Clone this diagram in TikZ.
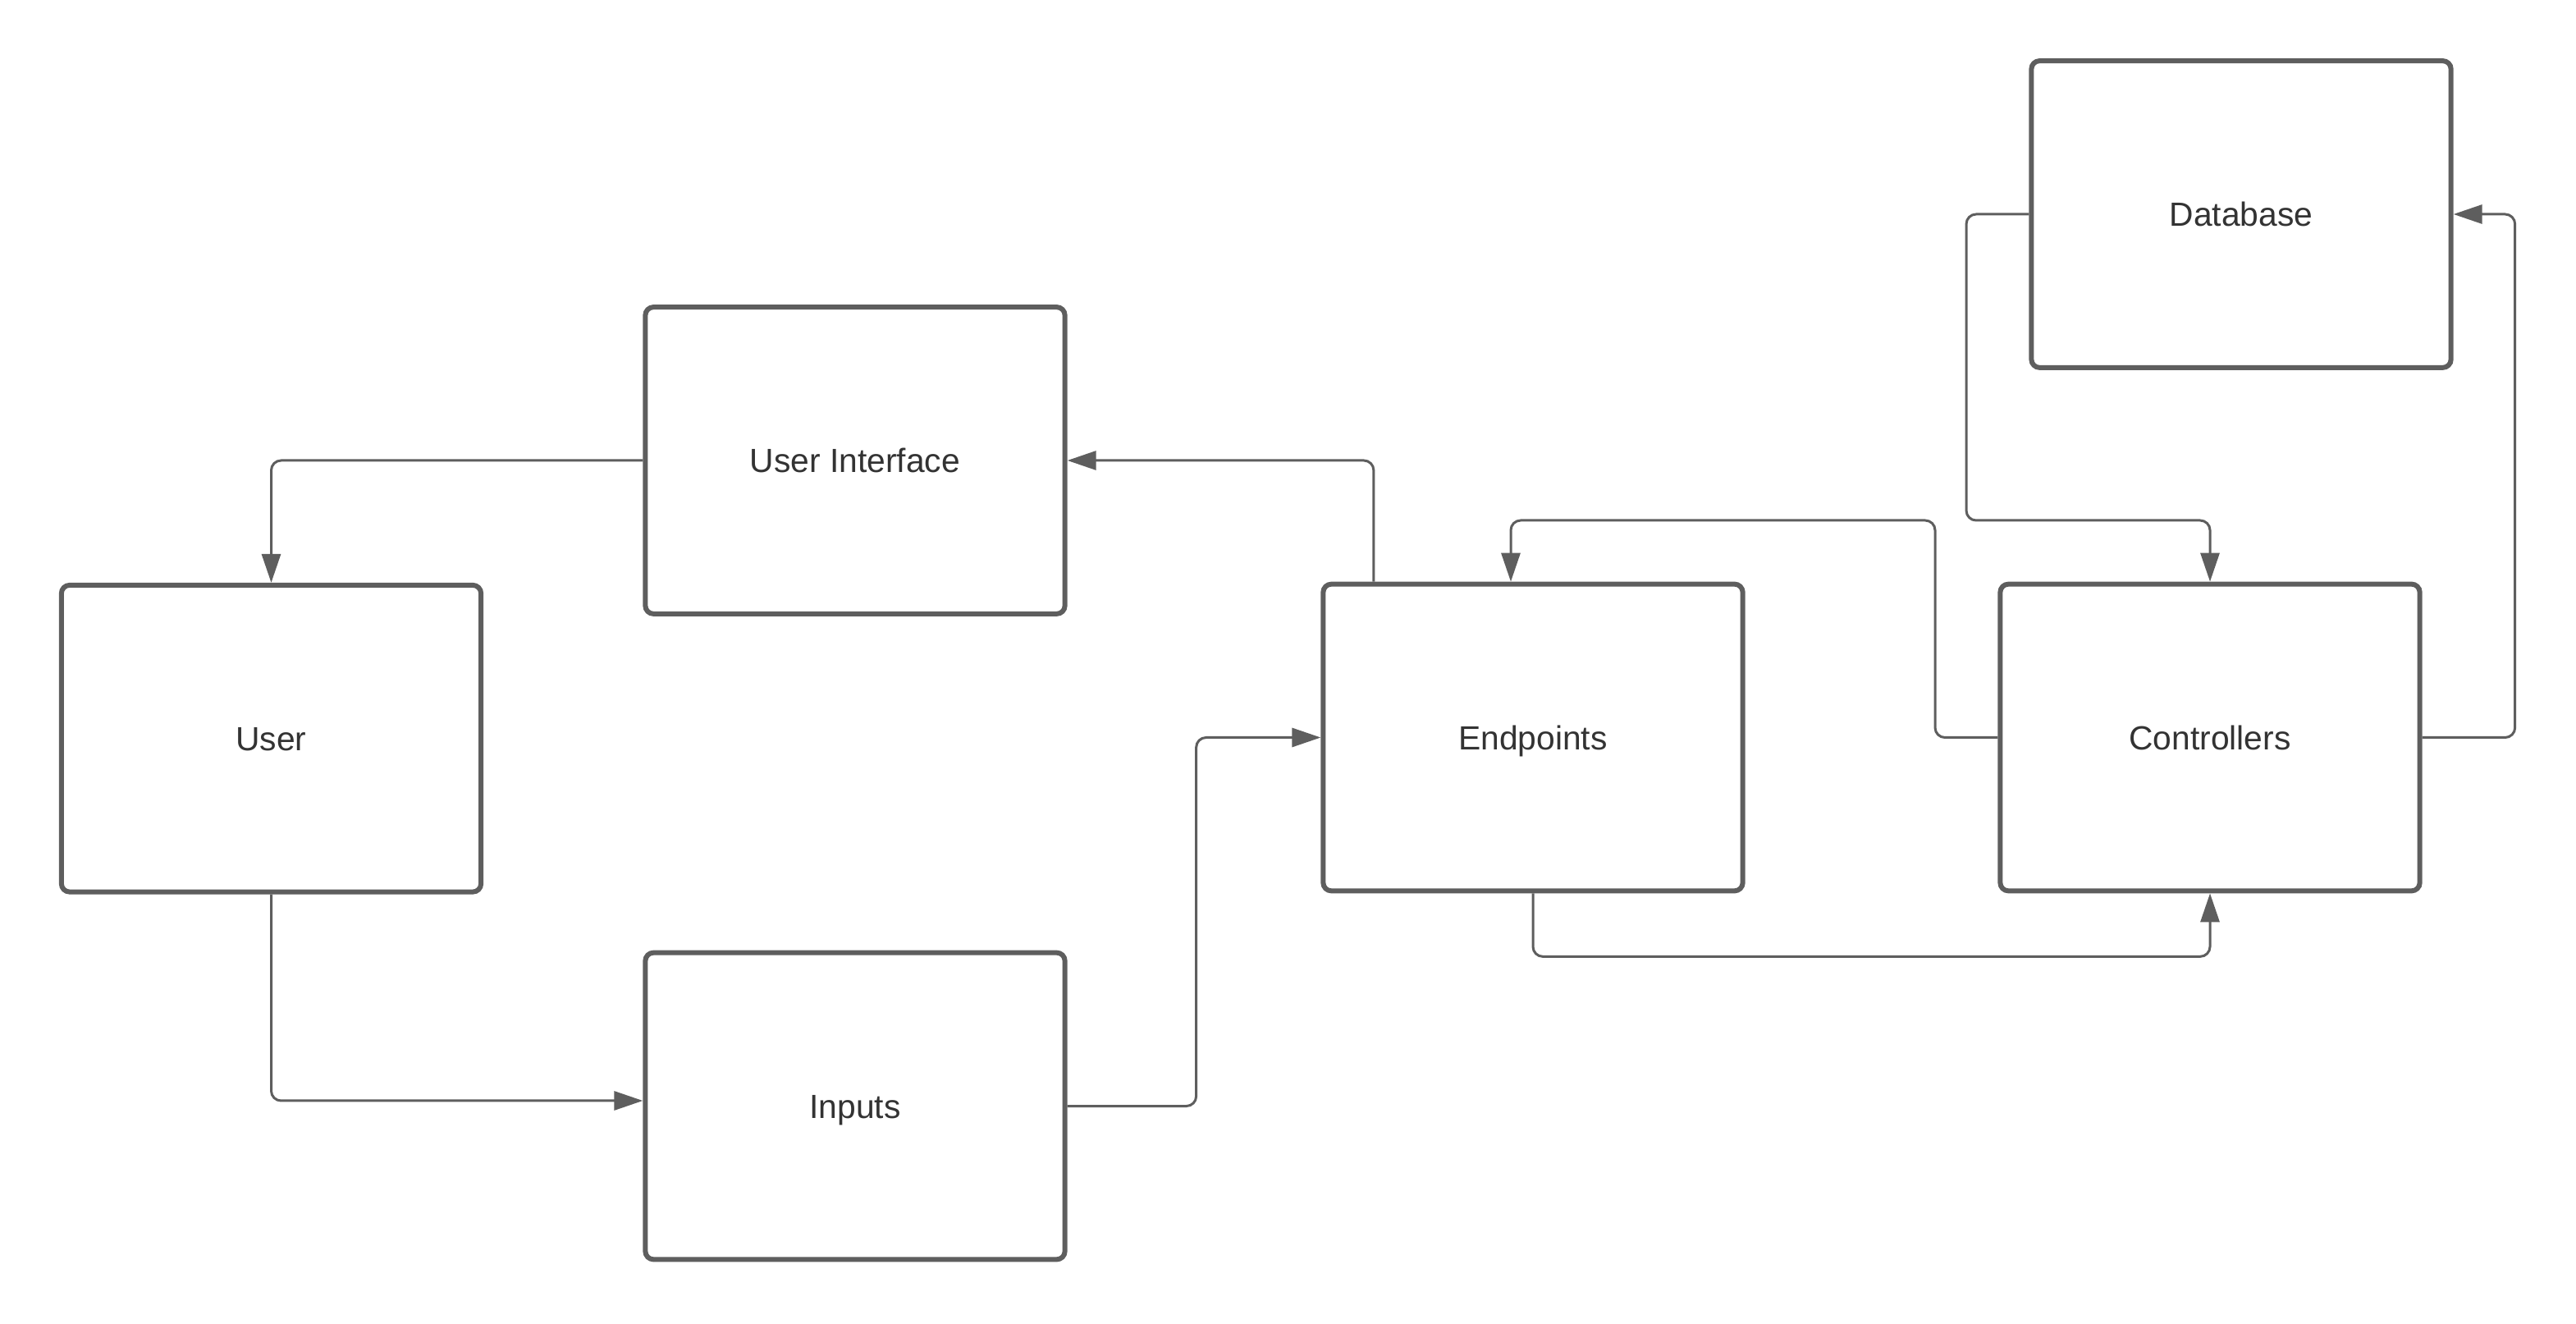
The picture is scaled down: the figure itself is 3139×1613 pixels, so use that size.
\documentclass[tikz,border=0pt]{standalone}
\usepackage{fontspec}
\setmainfont{Liberation Sans}
\usetikzlibrary{arrows.meta,calc}
\definecolor{linegray}{HTML}{5E5E5E}
\definecolor{textgray}{HTML}{333333}
\tikzset{
  box/.style={draw=linegray, line width=0.06cm, rounded corners=0.1cm,
    minimum width=5.11cm, minimum height=3.735cm, inner sep=0pt,
    text height=8.3pt, text depth=0pt,
    text=textgray, font=\fontsize{11.6}{14}\selectfont},
  conn/.style={draw=linegray, line width=0.03cm, rounded corners=0.12cm,
    -{Triangle[length=0.35cm,width=0.23cm]}}
}
\begin{document}
\begin{tikzpicture}[x=0.01cm,y=-0.01cm]
\useasboundingbox[fill=white] (0,0) rectangle (3139,1613);
\node[box] (user) at (330.5,899.75) {User};
\node[box] (ui) at (1042,561) {User Interface};
\node[box] (inputs) at (1042,1347.5) {Inputs};
\node[box] (endpoints) at (1868,898.5) {Endpoints};
\node[box] (controllers) at (2693,898.5) {Controllers};
\node[box] (database) at (2731,261) {Database};
\coordinate (w5) at (2358,634);
\coordinate (w7) at (2396,634);
\draw[conn] (ui.west) -| (user.north);
\draw[conn] (user.south) |- ([yshift=0.065cm]inputs.west);
\draw[conn] (inputs.east) -- ++(157,0) |- (endpoints.west);
\draw[conn] ([xshift=-1.94cm]endpoints.north) |- (ui.east);
\draw[conn] (controllers.west) -| (w5) -| ([xshift=-0.27cm]endpoints.north);
\draw[conn] (endpoints.south) -- ++(0,77) -| (controllers.south);
\draw[conn] (database.west) -| (w7) -| (controllers.north);
\draw[conn] (controllers.east) -- ++(113,0) |- (database.east);
\end{tikzpicture}
\end{document}
